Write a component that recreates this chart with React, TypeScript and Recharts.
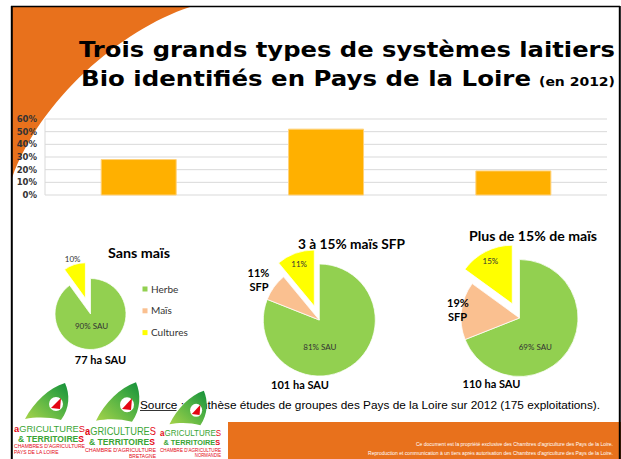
import React from 'react';
import { BarChart, Bar, XAxis, YAxis, CartesianGrid, PieChart, Pie, Cell } from 'recharts';

// part des exploitations par système (%)
const systemes = ['Sans maïs', '3 à 15% maïs SFP', 'Plus de 15% de maïs'];
const partExploitations = [28, 52, 19];
const yTicks = [0, 10, 20, 30, 40, 50, 60];

// assolement (% SAU)
const postes = ['Herbe', 'Maïs', 'Cultures'];
const couleurs = ['#92D050', '#FAC090', '#FFFF00'];
const sauSansMais = [90, 0, 10];
const sauMaisModere = [81, 8, 11];
const sauMaisFort = [69, 16, 15];
const surfaces = ['77 ha SAU', '101 ha SAU', '110 ha SAU'];
const maisSfp = ['', '11%', '19%'];

const ORANGE = '#E8711C';
const RAD = Math.PI / 180;

const barData = systemes.map((s, i) => ({ systeme: s, part: partExploitations[i] }));

// position des camemberts dans la page
const pies = [
  { values: sauSansMais, cx: 90.5, cy: 314, r: 35.5, explode: 16.5, yellowR: 1.16, green: [0.03, 0.33] },
  { values: sauMaisModere, cx: 319.3, cy: 320, r: 56, explode: 14.8, yellowR: 0.8, green: [0.01, 0.48] },
  { values: sauMaisFort, cx: 519.5, cy: 318, r: 58.5, explode: 16, yellowR: 0.82, green: [0.27, 0.49] },
];

const labelFont = { fontFamily: 'Lato', fontSize: 8, fill: '#333' };

const greenLabel = (dx: number, dy: number) => (p: any) => {
  if (p.index !== 0) return null;
  return (
    <text x={p.cx + dx * p.outerRadius} y={p.cy + dy * p.outerRadius} textAnchor="middle" dominantBaseline="central" {...labelFont}>
      {`${p.value}% SAU`}
    </text>
  );
};

const yellowLabel = (f: number) => (p: any) => {
  if (p.index !== 2) return null;
  const x = p.cx + p.outerRadius * f * Math.cos(-p.midAngle * RAD);
  const y = p.cy + p.outerRadius * f * Math.sin(-p.midAngle * RAD);
  return (
    <text x={x} y={y} textAnchor="middle" dominantBaseline="central" {...labelFont}>
      {`${p.value}%`}
    </text>
  );
};

const Logo = ({ tx, ty, sx, sy, last, right }: any) => (
  <g transform={`translate(${tx},${ty}) scale(${sx},${sy})`}>
    <path d="M11,39 C20,22 35,8 51,3 C56,14 56,28 47,40 C35,37 22,37 11,39 Z" fill="url(#gLogo)" />
    <circle cx={42} cy={24} r={7} fill="#fff" />
    <path d="M37,28 L47,18 L46,29 Z" fill="#E30613" />
    <text x={0} y={52} textLength={71} lengthAdjust="spacingAndGlyphs" fontFamily="Liberation Sans" fontSize={9.5}>
      <tspan fill="#E30613" fontWeight="bold">a</tspan>
      <tspan fill="#3AA535">GRICULTURE</tspan>
      <tspan fill="#E30613">S</tspan>
    </text>
    <text x={4} y={61.5} textLength={66} lengthAdjust="spacingAndGlyphs" fontFamily="Liberation Sans" fontWeight="bold" fontSize={8.5}>
      <tspan fill="#3AA535">& TERRITOIRE</tspan>
      <tspan fill="#E30613">S</tspan>
    </text>
    <text x={0} y={68.3} textLength={71} lengthAdjust="spacingAndGlyphs" fontFamily="Liberation Sans" fontSize={5} fill="#E30613">
      {right ? "CHAMBRE D'AGRICULTURE" : "CHAMBRES D'AGRICULTURE"}
    </text>
    <text x={right ? 71 : 0} y={74.3} textAnchor={right ? 'end' : 'start'} fontFamily="Liberation Sans" fontSize={5} fill="#E30613">
      {last}
    </text>
  </g>
);

export default function App() {
  const pieData = pies.map((p) => postes.map((n, i) => ({ name: n, value: p.values[i] })));

  return (
    <div style={{ position: 'absolute', left: 0, top: 0, width: 621, height: 459, background: '#fff', overflow: 'hidden' }}>
      {/* fond : cadre, arc orange, bandeau */}
      <svg width={621} height={459} style={{ position: 'absolute', left: 0, top: 0 }}>
        <path d="M12,7 L190,7 C120,30 40,100 12,178 Z" fill={ORANGE} />
        <rect x={228} y={422} width={393} height={37} fill={ORANGE} />
        <line x1={11} y1={6.5} x2={620} y2={6.5} stroke="#000" strokeWidth={1.5} />
        <line x1={11.8} y1={6} x2={11.8} y2={459} stroke="#000" strokeWidth={2} />
        <line x1={619.8} y1={6} x2={619.8} y2={459} stroke="#000" strokeWidth={2} />
        <text x={613} y={445.5} textAnchor="end" textLength={197} lengthAdjust="spacingAndGlyphs" fontFamily="Liberation Sans" fontSize={4.5} fill="#fff">
          Ce document est la propriété exclusive des Chambres d'agriculture des Pays de la Loire.
        </text>
        <text x={613} y={455} textAnchor="end" textLength={245} lengthAdjust="spacingAndGlyphs" fontFamily="Liberation Sans" fontSize={4.5} fill="#fff">
          Reproduction et communication à un tiers après autorisation des Chambres d'agriculture des Pays de la Loire.
        </text>
      </svg>

      <div style={{ position: 'absolute', left: 0, top: 100 }}>
        <BarChart width={621} height={110} data={barData} margin={{ top: 19, right: 14, bottom: 15, left: 0 }} barCategoryGap="30%">
          <CartesianGrid vertical={false} stroke="#d9d9d9" />
          <XAxis dataKey="systeme" hide />
          <YAxis
            type="number"
            domain={[0, 60]}
            ticks={yTicks}
            interval={0}
            width={45}
            tickFormatter={(v: number) => `${v}%`}
            tick={{ fontSize: 8.5, fontWeight: 'bold', fill: '#333', fontFamily: 'DejaVu Sans' }}
            axisLine={{ stroke: '#d9d9d9' }}
            tickLine={false}
          />
          <Bar dataKey="part" fill="#FFB000" stroke="#FFD27A" strokeWidth={1} isAnimationActive={false} />
        </BarChart>
      </div>

      <div style={{ position: 'absolute', left: 0, top: 0 }}>
        <PieChart width={621} height={459} margin={{ top: 0, right: 0, bottom: 0, left: 0 }}>
          {pies.map((p, k) => (
            <Pie
              key={`base${k}`}
              data={pieData[k]}
              dataKey="value"
              cx={p.cx}
              cy={p.cy}
              outerRadius={p.r}
              startAngle={90}
              endAngle={-270}
              label={greenLabel(p.green[0], p.green[1])}
              labelLine={false}
              isAnimationActive={false}
            >
              {pieData[k].map((d, i) => (
                <Cell
                  key={i}
                  fill={i === 2 ? 'transparent' : couleurs[i]}
                  stroke={i === 2 || d.value === 0 ? 'none' : '#fff'}
                  strokeWidth={0.75}
                />
              ))}
            </Pie>
          ))}
          {pies.map((p, k) => {
            const total = p.values.reduce((a, b) => a + b, 0);
            const mid = ((p.values[0] + p.values[1] + p.values[2] / 2) / total) * 360;
            const ox = p.explode * Math.sin(mid * RAD);
            const oy = -p.explode * Math.cos(mid * RAD);
            return (
              <Pie
                key={`expl${k}`}
                data={pieData[k]}
                dataKey="value"
                cx={p.cx + ox}
                cy={p.cy + oy}
                outerRadius={p.r}
                startAngle={90}
                endAngle={-270}
                label={yellowLabel(p.yellowR)}
                labelLine={false}
                isAnimationActive={false}
              >
                {pieData[k].map((d, i) => (
                  <Cell key={i} fill={i === 2 ? couleurs[2] : 'transparent'} stroke={i === 2 ? '#fff' : 'none'} strokeWidth={0.75} />
                ))}
              </Pie>
            );
          })}
        </PieChart>
      </div>

      {/* textes */}
      <svg width={621} height={459} style={{ position: 'absolute', left: 0, top: 0 }}>
        <defs>
          <linearGradient id="gLogo" x1="0" y1="1" x2="1" y2="0">
            <stop offset="0%" stopColor="#A8D44A" />
            <stop offset="60%" stopColor="#4DB043" />
            <stop offset="100%" stopColor="#14903A" />
          </linearGradient>
        </defs>
        <g fontFamily="DejaVu Sans" fontWeight="bold" fill="#000">
          <text x={79} y={56.5} fontSize={22} textLength={536} lengthAdjust="spacingAndGlyphs">
            Trois grands types de systèmes laitiers
          </text>
          <text x={81} y={85.5} fontSize={22} textLength={450} lengthAdjust="spacingAndGlyphs">
            Bio identifiés en Pays de la Loire
          </text>
          <text x={539} y={85.5} fontSize={12} textLength={76} lengthAdjust="spacingAndGlyphs">
            (en 2012)
          </text>
        </g>

        <g fontFamily="Lato" fontWeight="bold" fill="#000" textAnchor="middle">
          <text x={139} y={258} fontSize={14} textLength={62} lengthAdjust="spacingAndGlyphs">{systemes[0]}</text>
          <text x={351.5} y={249} fontSize={14} textLength={107} lengthAdjust="spacingAndGlyphs">{systemes[1]}</text>
          <text x={533} y={241} fontSize={14} textLength={128} lengthAdjust="spacingAndGlyphs">{systemes[2]}</text>
          <text x={100.5} y={364} fontSize={11}>{surfaces[0]}</text>
          <text x={300} y={389} fontSize={11}>{surfaces[1]}</text>
          <text x={491.5} y={388} fontSize={11}>{surfaces[2]}</text>
          <text x={258.5} y={277} fontSize={11}>{maisSfp[1]}</text>
          <text x={259} y={291} fontSize={11}>SFP</text>
          <text x={458} y={307} fontSize={11}>{maisSfp[2]}</text>
          <text x={457.5} y={321} fontSize={11}>SFP</text>
        </g>

        {postes.map((n, i) => (
          <g key={n}>
            <rect x={142.5} y={286.5 + i * 21.8} width={5} height={5} fill={couleurs[i]} />
            <text x={151} y={292.5 + i * 21.8} fontFamily="Lato" fontSize={10} fill="#333">{n}</text>
          </g>
        ))}

        <text x={140} y={408.5} textLength={460} lengthAdjust="spacingAndGlyphs" fontFamily="Liberation Sans" fontSize={11} fill="#000">
          Source : Synthèse études de groupes des Pays de la Loire sur 2012 (175 exploitations).
        </text>
        <line x1={140} y1={410.5} x2={176.5} y2={410.5} stroke="#000" strokeWidth={0.8} />

        <Logo tx={14} ty={380} sx={1} sy={1} last="PAYS DE LA LOIRE" />
        <Logo tx={85} ty={379} sx={1} sy={1.07} last="BRETAGNE" right />
        <Logo tx={160} ty={388} sx={0.86} sy={0.93} last="NORMANDIE" right />
      </svg>
    </div>
  );
}
